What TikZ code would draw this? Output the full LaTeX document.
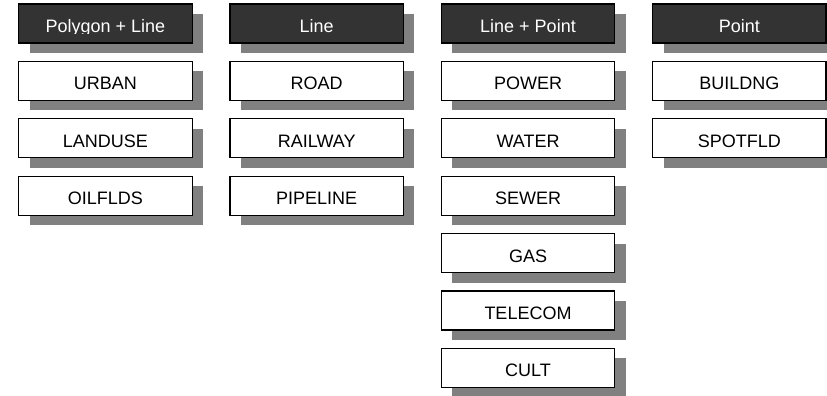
\documentclass[tikz,border=0pt]{standalone}
\usepackage{fontspec}
\setmainfont{Liberation Sans}
\usetikzlibrary{shadows}
\definecolor{hdrfill}{HTML}{333333}
\definecolor{shadowgray}{HTML}{808080}
\begin{document}
\begin{tikzpicture}[x=1pt,y=1pt,
  boxtext/.style={text height=18pt, text depth=0pt, font=\fontsize{18}{20}\selectfont},
  basebox/.style={rectangle, draw=black, line width=1.3pt, inner sep=0pt,
    minimum width=173.5pt, minimum height=39pt, anchor=north west, boxtext,
    drop shadow={shadow xshift=11pt, shadow yshift=-10pt, fill=shadowgray, draw=none, opacity=1}},
  hdr/.style={basebox, fill=hdrfill, text=white},
  item/.style={basebox, fill=white, text=black}]
\useasboundingbox (0,0) rectangle (827,-396);
\def\cw{211.3}
\def\rh{57.4}
% column 1
\node[hdr] (h1) at (18,-3.3) {};
\begin{scope}
  \clip ([xshift=1pt,yshift=-1pt]h1.north west) rectangle ([xshift=-1pt,yshift=-9.6pt]h1.east);
  \node[boxtext, inner sep=0pt, text=white] (h1text) at (h1.center) {Polygon + Line};
\end{scope}
\node[item] (urban) at (18,-3.3-\rh) {URBAN};
\node[item] (landuse) at (18,-3.3-2*\rh) {LANDUSE};
\node[item] (oilflds) at (18,-3.3-3*\rh) {OILFLDS};
% column 2
\node[hdr] (h2) at (18+\cw,-3.3) {Line};
\node[item] (road) at (18+\cw,-3.3-\rh) {ROAD};
\node[item] (railway) at (18+\cw,-3.3-2*\rh) {RAILWAY};
\node[item] (pipeline) at (18+\cw,-3.3-3*\rh) {PIPELINE};
% column 3
\node[hdr] (h3) at (18+2*\cw,-3.3) {Line + Point};
\node[item] (power) at (18+2*\cw,-3.3-\rh) {POWER};
\node[item] (water) at (18+2*\cw,-3.3-2*\rh) {WATER};
\node[item] (sewer) at (18+2*\cw,-3.3-3*\rh) {SEWER};
\node[item] (gas) at (18+2*\cw,-3.3-4*\rh) {GAS};
\node[item] (telecom) at (18+2*\cw,-3.3-5*\rh) {TELECOM};
\node[item] (cult) at (18+2*\cw,-3.3-6*\rh) {CULT};
% column 4
\node[hdr] (h4) at (18+3*\cw,-3.3) {Point};
\node[item] (buildng) at (18+3*\cw,-3.3-\rh) {BUILDNG};
\node[item] (spotfld) at (18+3*\cw,-3.3-2*\rh) {SPOTFLD};
\end{tikzpicture}
\end{document}
